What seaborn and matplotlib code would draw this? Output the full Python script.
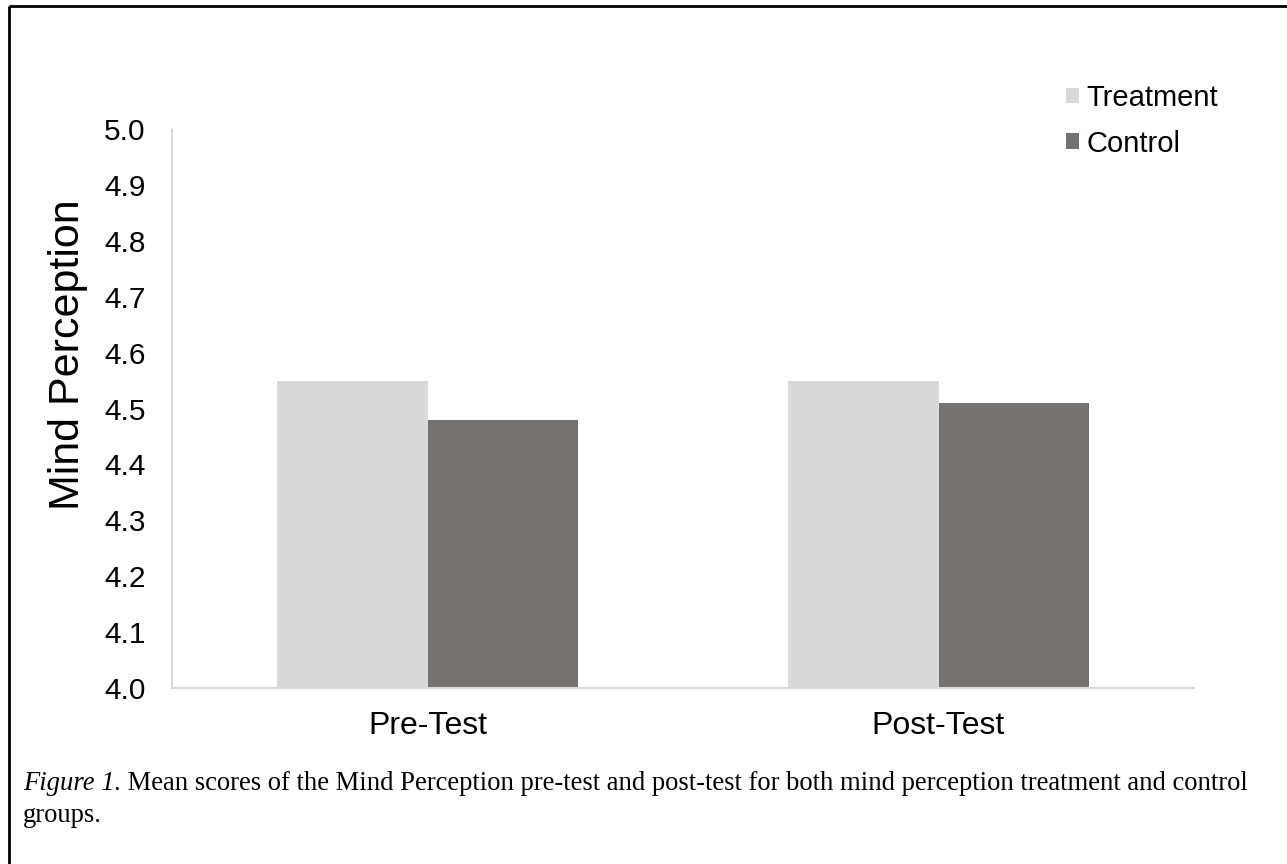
import matplotlib
matplotlib.use("Agg")
import matplotlib.pyplot as plt
import matplotlib.patches as mpatches
from matplotlib.lines import Line2D
import seaborn as sns
import pandas as pd

# ---- data ----
categories = ["Pre-Test", "Post-Test"]
groups = ["Treatment", "Control"]
treatment_values = [4.55, 4.55]
control_values = [4.48, 4.51]
y_ticks = [4.0, 4.1, 4.2, 4.3, 4.4, 4.5, 4.6, 4.7, 4.8, 4.9, 5.0]
y_label = "Mind Perception"
caption_italic = "Figure 1."
caption_rest = " Mean scores of the Mind Perception pre-test and post-test for both mind perception treatment and control"
caption_line2 = "groups."

colors = {"Treatment": "#d9d9d9", "Control": "#767171"}

df = pd.DataFrame({
    "Test": categories * 2,
    "Group": [groups[0]] * len(categories) + [groups[1]] * len(categories),
    "Score": treatment_values + control_values,
})

sns.set_theme(style="white")
plt.rcParams["font.family"] = ["Liberation Sans", "DejaVu Sans"]

W, H = 1287, 864
fig = plt.figure(figsize=(W / 100, H / 100), dpi=100)
ax = fig.add_axes([172 / W, 1 - 687.7 / H, (1194 - 172) / W, (687.7 - 129.5) / H])

sns.barplot(data=df, x="Test", y="Score", hue="Group", order=categories,
            hue_order=groups, palette=colors, width=0.59, ax=ax,
            edgecolor="none", linewidth=0, legend=False, errorbar=None)

ax.set_ylim(4.0, 5.0)
ax.set_xlim(-0.5, 1.5)
ax.set_yticks(y_ticks)
ax.set_yticklabels([f"{v:.1f}" for v in y_ticks])
ax.set_xlabel("")
ax.set_ylabel("")
ax.tick_params(axis="y", length=0, pad=19, labelsize=21.5, labelcolor="#000000")
ax.tick_params(axis="x", length=0, pad=17, labelsize=23, labelcolor="#000000")

for side in ["top", "right"]:
    ax.spines[side].set_visible(False)
for side in ["left", "bottom"]:
    ax.spines[side].set_color("#d9d9d9")
    ax.spines[side].set_linewidth(1.5)

# y-axis title
fig.text(68 / W, 1 - 355 / H, y_label, rotation=90, ha="center", va="center",
         fontsize=31, color="#000000")

# legend
handles = [mpatches.Patch(facecolor=colors[g], edgecolor="none", label=g) for g in groups]
leg = fig.legend(handles=handles, loc="upper left",
                 bbox_to_anchor=(1066 / W, 1 - 84 / H), frameon=False,
                 fontsize=21, handlelength=0.45, handleheight=0.45,
                 handletextpad=0.25, labelspacing=0.6, borderpad=0, borderaxespad=0)
for t in leg.get_texts():
    t.set_color("#000000")

# caption
fig.canvas.draw()
renderer = fig.canvas.get_renderer()
serif = ["Liberation Serif", "DejaVu Serif"]
t1 = fig.text(23 / W, 1 - 783 / H, caption_italic, fontsize=19.2, style="italic",
              family=serif, va="center", ha="left", color="#000000")
bb = t1.get_window_extent(renderer=renderer)
fig.text(bb.x1 / W, 1 - 783 / H, caption_rest, fontsize=19.2,
         family=serif, va="center", ha="left", color="#000000")
fig.text(23 / W, 1 - 815 / H, caption_line2, fontsize=19.2,
         family=serif, va="center", ha="left", color="#000000")

# page border (top and left)
fig.add_artist(Line2D([9 / W, 1.0], [1 - 6 / H, 1 - 6 / H], transform=fig.transFigure,
                      color="black", linewidth=2.0, solid_capstyle="butt"))
fig.add_artist(Line2D([9 / W, 9 / W], [1 - 6 / H, 0.0], transform=fig.transFigure,
                      color="black", linewidth=2.0, solid_capstyle="butt"))

fig.savefig("out.png", dpi=100, facecolor="white")
